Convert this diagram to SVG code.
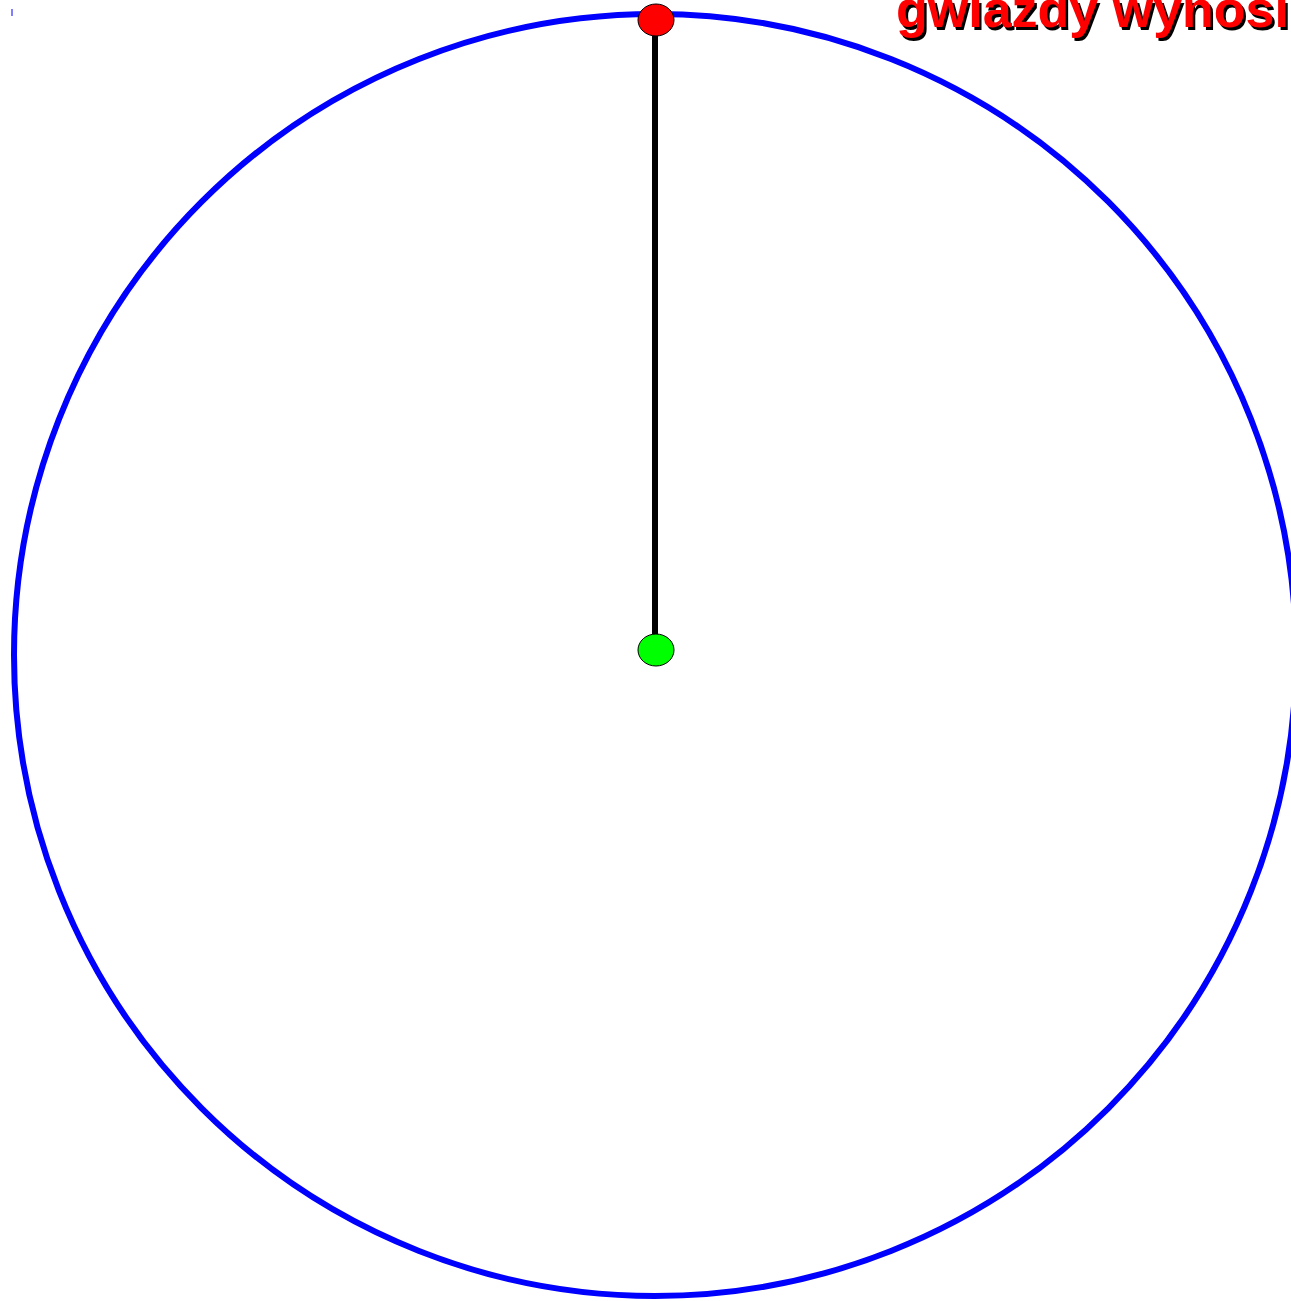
<svg xmlns="http://www.w3.org/2000/svg" width="1291" height="1301" viewBox="0 0 1291 1301">
<style>
.lbl{font-family:"Liberation Sans",Arial,sans-serif;font-weight:bold;font-size:52px}
.dot{stroke:#000;stroke-width:1}
</style>
<rect width="1291" height="1301" fill="#fff"/>
<g id="orbit"><circle cx="655" cy="655" r="641" fill="none" stroke="#0000ff" stroke-width="6"/></g>
<line x1="12" y1="9" x2="12" y2="16" stroke="#0000ff" stroke-width="1"/>
<g id="connectors"><line x1="655" y1="20" x2="655" y2="650" stroke="#000" stroke-width="6"/></g>
<g id="star"><ellipse class="dot" cx="656" cy="20" rx="18" ry="16" fill="#ff0000"/></g>
<g id="center"><ellipse class="dot" cx="656" cy="650" rx="18" ry="16" fill="#00ff00"/></g>
<g id="label">
<text class="lbl" x="898.5" y="29.5" fill="#000">gwiazdy wynosi</text>
<text class="lbl" x="896" y="27" fill="#ff0000">gwiazdy wynosi</text>
</g>
</svg>
